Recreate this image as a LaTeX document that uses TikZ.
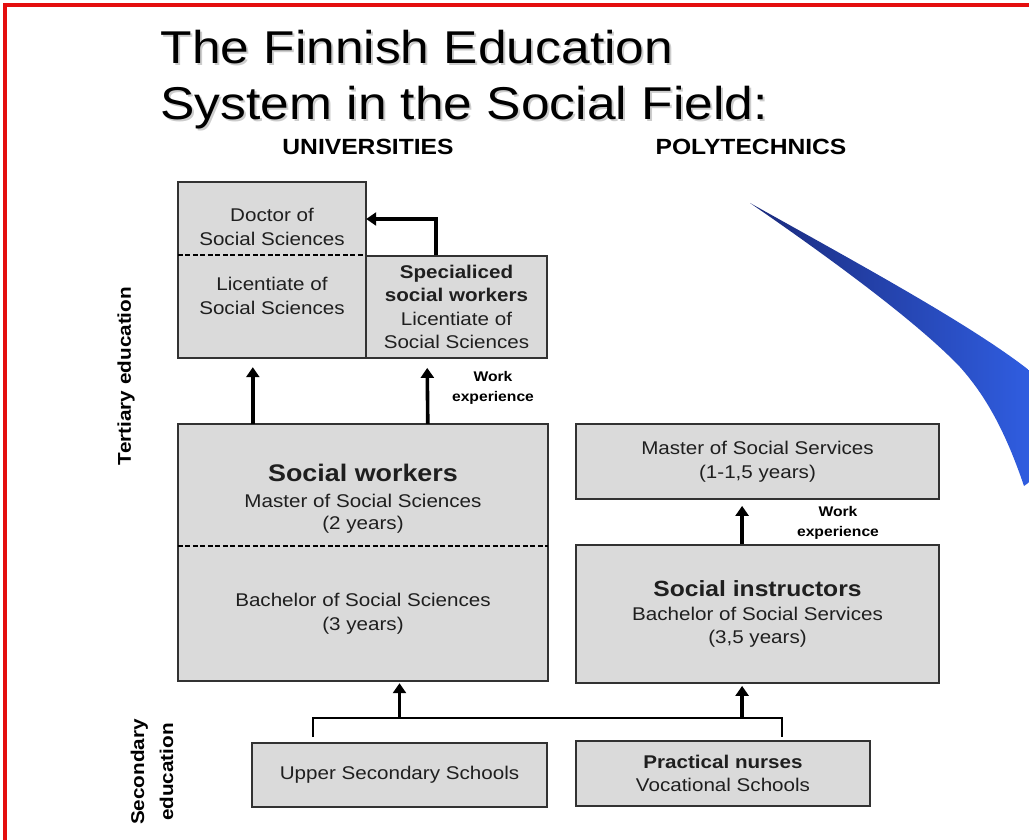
\documentclass[tikz,border=0pt]{standalone}
\usepackage{fontspec}
\setmainfont{Liberation Sans}[FakeStretch=1.12]
\usetikzlibrary{arrows.meta}
\definecolor{boxgray}{RGB}{218,218,218}
\definecolor{edgegray}{RGB}{50,50,50}
\definecolor{framered}{RGB}{228,14,14}
\definecolor{swooshdark}{RGB}{26,42,124}
\definecolor{swooshlight}{RGB}{48,94,226}
\tikzset{
  sect/.style={fill=boxgray, inner sep=0pt, align=center, text=black!88, font=\fontsize{18.4}{23.5}\selectfont},
  boxline/.style={draw=edgegray, line width=1.8pt},
  dashline/.style={line width=2.4pt, dash pattern=on 5pt off 2.5pt},
  arrowup/.style={line width=3.6pt, -{Triangle[width=13pt,length=10pt]}},
  link/.style={line width=1.7pt},
  worknote/.style={align=center, font=\bfseries\fontsize{14}{20}\selectfont},
  sidelabel/.style={align=center, rotate=90, font=\bfseries\fontsize{18.5}{29}\selectfont},
  colhead/.style={anchor=base, font=\bfseries\fontsize{22}{26}\selectfont},
  titletext/.style={anchor=base west, font=\fontsize{46}{55}\selectfont},
}
\begin{document}
\begin{tikzpicture}[x=1pt, y=-1pt]
  \useasboundingbox (0,0) rectangle (1029,840);
  \begin{scope}
    \clip (0,0) rectangle (1029,840);
    \draw[framered, line width=4pt] (5,850) -- (5,5) -- (1040,5);
    \shade[left color=swooshdark, right color=swooshlight] (750,203) .. controls (870,270) and (980,330) .. (1035,375) -- (1035,478) -- (1024,486) .. controls (1005,430) and (985,395) .. (960,367) .. controls (920,325) and (840,265) .. (750,203) -- cycle;
  \end{scope}

  \node[titletext, text=gray!40] (ShadeA) at (159,66) {The Finnish Education};
  \node[titletext, text=gray!40] (ShadeB) at (159,122) {System in the Social Field:};
  \node[titletext] (TitleA) at (157,64) {The Finnish Education};
  \node[titletext] (TitleB) at (157,120) {System in the Social Field:};
  \node[colhead] (Univ) at (368,155) {UNIVERSITIES};
  \node[colhead] (Poly) at (751,155) {POLYTECHNICS};

  \node[sidelabel] (Tert) at (126,376) {Tertiary education};
  \node[sidelabel] (Sec) at (152,772) {Secondary\\education};

  \node[sect, minimum width=188pt, minimum height=124pt] (Lic) at (272,296) {Licentiate of\\Social Sciences};
  \node[sect, minimum width=188pt, minimum height=90pt] (Doc) at (272,227) {Doctor of\\Social Sciences};
  \node[sect, boxline, minimum width=181pt, minimum height=102pt] (Spec) at (456.5,307) {\textbf{Specialiced}\\\textbf{social workers}\\Licentiate of\\Social Sciences};
  \draw[boxline] (Doc.north west) rectangle (Lic.south east);
  \draw[dashline] (Doc.west |- Spec.north) -- (Spec.north west);

  \node[sect, minimum width=370pt, minimum height=150pt] (SWM) at (363,499) {{\bfseries\fontsize{24}{28}\selectfont Social workers}\\[2pt]Master of Social Sciences\\[-1pt](2 years)};
  \node[sect, minimum width=370pt, minimum height=135pt] (SWB) at (363,613.5) {Bachelor of Social Sciences\\(3 years)};
  \draw[boxline] (SWM.north west) rectangle (SWB.south east);
  \draw[dashline] (SWB.north west) -- (SWB.north east);

  \node[sect, boxline, minimum width=363pt, minimum height=75pt] (MSS) at (757.5,461.5) {Master of Social Services\\(1-1,5 years)};
  \node[sect, boxline, minimum width=363pt, minimum height=138pt] (SI) at (757.5,614) {{\bfseries\fontsize{22}{26}\selectfont Social instructors}\\Bachelor of Social Services\\(3,5 years)};

  \node[sect, boxline, minimum width=295pt, minimum height=64pt] (USS) at (399.5,775) {Upper Secondary Schools};
  \node[sect, boxline, minimum width=294pt, minimum height=65pt] (PN) at (723,773.5) {\textbf{Practical nurses}\\Vocational Schools};

  \draw[arrowup] ([xshift=-20.5pt]Spec.north) |- ([yshift=8pt]Doc.east);
  \draw[arrowup, shorten >=9pt] ([xshift=75pt]SWM.north west) -- ([xshift=75pt]Lic.south west);
  \draw[arrowup, shorten >=9pt] ([xshift=250pt]SWM.north west) -- ([xshift=62pt]Spec.south west);
  \node[worknote] (WorkA) at (493,388) {Work\\experience};

  \draw[arrowup, shorten >=6pt] ([xshift=167pt]SI.north west) -- ([xshift=167pt]MSS.south west);
  \node[worknote] (WorkB) at (838,523) {Work\\experience};

  \coordinate (JoinL) at ([xshift=62pt,yshift=5pt]USS.north west);
  \coordinate (JoinR) at ([xshift=207pt,yshift=3pt]PN.north west);
  \coordinate (Rise) at ([xshift=167pt]SI.south west);
  \draw[link] (JoinL) -- ++(0,-19) coordinate (Bar) -| (JoinR);
  \draw[arrowup, shorten >=2pt] (Bar -| USS.north) -- (SWB.south -| USS.north);
  \draw[arrowup, shorten >=2pt] (Bar -| Rise) -- (Rise);
\end{tikzpicture}
\end{document}
